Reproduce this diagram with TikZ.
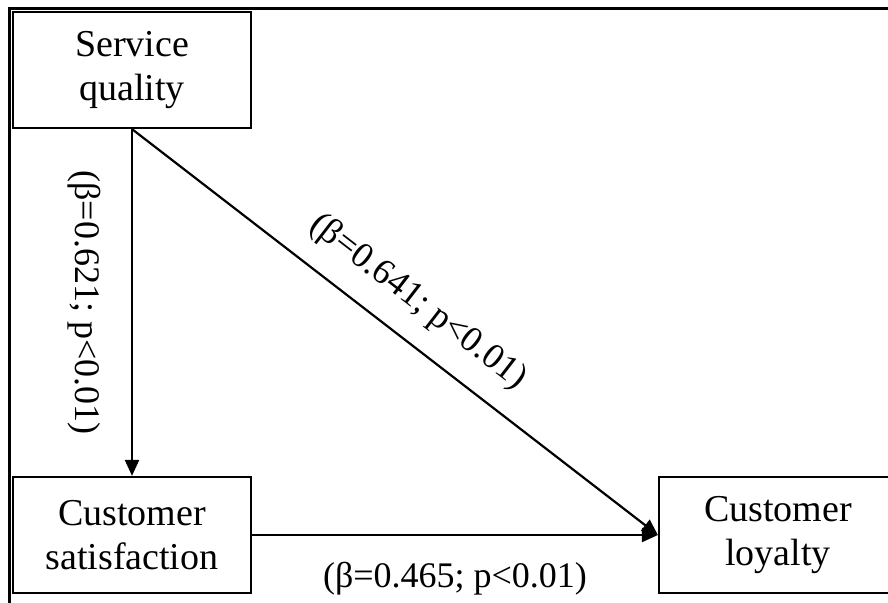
\documentclass[tikz,border=0pt]{standalone}
\usepackage{fontspec}
\setmainfont{Liberation Serif}
\usetikzlibrary{arrows.meta,calc}
\begin{document}
\begin{tikzpicture}[x=1pt,y=1pt,
  box/.style={draw, line width=2.2pt, minimum width=238pt, minimum height=116pt, inner sep=0pt, align=center, font=\fontsize{38}{44}\selectfont},
  conn/.style={line width=2.2pt, -{Triangle[length=16pt,width=14pt]}},
  lab/.style={font=\fontsize{36}{43}\selectfont, inner sep=0pt},
  frame/.style={line width=3pt}]
\useasboundingbox (0,0) rectangle (888,-602);
\clip (0,0) rectangle (888,-602);
\draw[frame] (9,-610) -- (9,-9) -- (895,-9);
\node[box] (sq) at (132,-70) {Service\\quality};
\node[box] (cs) at (132,-535) {Customer\\satisfaction};
\node[box] (cl) at (778,-535) {Customer\\loyalty};
\draw[conn] (sq.south) -- (cs.north);
\draw[conn] (sq.south) -- (cl.west);
\draw[conn] (cs.east) -- (cl.west);
\coordinate (m1) at ($(sq.south)!0.5!(cs.north)$);
\node[lab, rotate=-90] (l1) at ([xshift=-48pt]m1) {(β=0.621; p<0.01)};
\coordinate (m2) at ($(sq.south)!0.5!(cl.west)$);
\node[lab, rotate=-37.7] (l2) at ($(m2)!38pt!90:(cl.west)$) {(β=0.641; p<0.01)};
\coordinate (m3) at ($(cs.east)!0.5!(cl.west)$);
\node[lab] (l3) at ([yshift=-44pt]m3) {(β=0.465; p<0.01)};
\end{tikzpicture}
\end{document}
